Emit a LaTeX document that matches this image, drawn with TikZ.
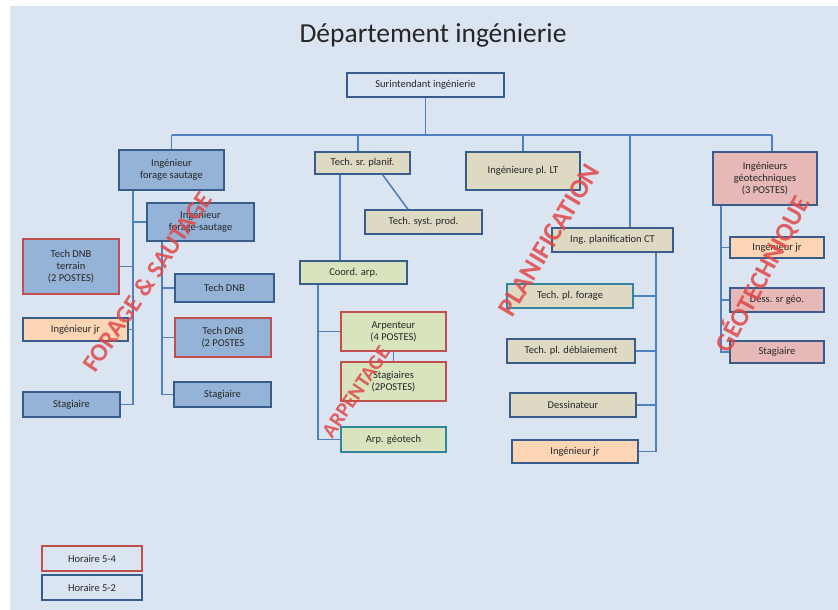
\documentclass[tikz,border=0pt]{standalone}
\usepackage{fontspec}
\setmainfont{Carlito}
\usetikzlibrary{calc}
\definecolor{bgc}{HTML}{DBE5F1}
\definecolor{bord}{HTML}{385D8A}
\definecolor{redb}{HTML}{C0504D}
\definecolor{bluef}{HTML}{95B3D7}
\definecolor{beige}{HTML}{DDD9C3}
\definecolor{greenf}{HTML}{D7E4BD}
\definecolor{pinkf}{HTML}{E6B9B8}
\definecolor{orangef}{HTML}{FCD5B5}
\definecolor{linec}{HTML}{4F81BD}
\definecolor{tealb}{HTML}{31859C}
\definecolor{wmark}{HTML}{E04848}
\definecolor{txt}{HTML}{262626}
\tikzset{
  box/.style={draw=bord, line width=1.2pt, align=center, inner sep=1pt,
    font=\fontsize{10.5}{12}\selectfont, text=txt},
  bluebox/.style={box, fill=bluef},
  beigebox/.style={box, fill=beige},
  greenbox/.style={box, fill=greenf},
  pinkbox/.style={box, fill=pinkf},
  orangebox/.style={box, fill=orangef},
  plainbox/.style={box, fill=bgc},
  redline/.style={draw=redb},
  conn/.style={draw=linec, line width=1.6pt},
  wm/.style={text=wmark, opacity=0.85, font=\bfseries\fontsize{#1}{#1}\selectfont, inner sep=0pt},
}
\begin{document}
\begin{tikzpicture}[x=1pt,y=-1pt]
\useasboundingbox (0,0) rectangle (838,610);
\fill[white] (0,0) rectangle (838,610);
\fill[bgc] (10,6) rectangle (838,610);

\node[font=\fontsize{27.5}{30}\selectfont, text=txt] (title) at (433,35) {Département ingénierie};

% top
\node[plainbox, minimum width=157pt, minimum height=24pt] (sur) at (425.5,85) {Surintendant ingénierie};

% forage & sautage
\node[bluebox, minimum width=105pt, minimum height=40pt] (ifs1) at (171.5,170) {Ingénieur\\forage sautage};
\node[bluebox, minimum width=107pt, minimum height=38pt] (ifs2) at (200.5,222) {Ingénieur\\forage-sautage};
\node[bluebox, redline, minimum width=96pt, minimum height=55pt] (tdnbt) at (71,266.5) {Tech DNB\\terrain\\(2 POSTES)};
\node[bluebox, minimum width=99pt, minimum height=28pt] (tdnb) at (224.5,288) {Tech DNB};
\node[orangebox, minimum width=105pt, minimum height=23pt] (ijr1) at (75.5,329.5) {Ingénieur jr};
\node[bluebox, redline, minimum width=96pt, minimum height=39pt] (tdnb2) at (223,337.5) {Tech DNB\\(2 POSTES};
\node[bluebox, minimum width=97pt, minimum height=25pt] (stg1) at (222.5,394.5) {Stagiaire};
\node[bluebox, minimum width=97pt, minimum height=25pt] (stg0) at (71.5,404.5) {Stagiaire};

% arpentage
\node[beigebox, minimum width=95pt, minimum height=22pt] (tsp) at (362.5,163) {Tech. sr. planif.};
\node[beigebox, minimum width=117pt, minimum height=24pt] (tsyp) at (423.5,222) {Tech. syst. prod.};
\node[greenbox, minimum width=107pt, minimum height=23pt] (coord) at (353.5,272.5) {Coord. arp.};
\node[greenbox, redline, minimum width=105pt, minimum height=39pt] (arp) at (393.5,331.5) {Arpenteur\\(4 POSTES)};
\node[greenbox, redline, minimum width=105pt, minimum height=39pt] (stgs) at (393.5,381.5) {Stagiaires\\(2POSTES)};
\node[greenbox, draw=tealb, line width=1.8pt, minimum width=105pt, minimum height=25pt] (arpg) at (393.5,439.5) {Arp. géotech};

% planification
\node[beigebox, minimum width=114pt, minimum height=38pt] (iplt) at (523,171) {Ingénieure pl. LT};
\node[beigebox, line width=1.8pt, minimum width=121pt, minimum height=24pt] (ipct) at (612.5,240) {Ing. planification CT};
\node[beigebox, draw=tealb, line width=1.8pt, minimum width=126pt, minimum height=24pt] (tplf) at (570,296) {Tech. pl. forage};
\node[beigebox, line width=1.6pt, minimum width=128pt, minimum height=24pt] (tpld) at (571,351) {Tech. pl. déblaiement};
\node[beigebox, minimum width=126pt, minimum height=24pt] (dess) at (573,405) {Dessinateur};
\node[orangebox, minimum width=126pt, minimum height=23pt] (ijr2) at (575,451.5) {Ingénieur jr};

% geotechnique
\node[pinkbox, minimum width=104pt, minimum height=53pt] (igeo) at (765,178.5) {Ingénieurs\\géotechniques\\(3 POSTES)};
\node[orangebox, minimum width=94pt, minimum height=21pt] (ijr3) at (777,247.5) {Ingénieur jr};
\node[pinkbox, minimum width=94pt, minimum height=24pt] (dsg) at (777,300) {Dess. sr géo.};
\node[pinkbox, minimum width=94pt, minimum height=22pt] (stg3) at (777,352) {Stagiaire};

% legend
\node[plainbox, redline, minimum width=100pt, minimum height=25pt] (h54) at (92,558.5) {Horaire 5-4};
\node[plainbox, minimum width=100pt, minimum height=25pt] (h52) at (92,587.5) {Horaire 5-2};

% connectors: bus
\coordinate (busL) at (172,135);
\coordinate (busR) at (772,135);
\draw[conn] (busL) -- (busR);
\draw[conn] (sur.south) -- (sur.south |- busL);
\draw[conn] (ifs1.north) -- (ifs1.north |- busL);
\draw[conn] ([xshift=-4.5pt]tsp.north) -- ([xshift=-4.5pt]tsp.north |- busL);
\draw[conn] (iplt.north) -- (iplt.north |- busL);
\draw[conn] ([xshift=17.5pt]ipct.north) -- ([xshift=17.5pt]ipct.north |- busL);
\draw[conn] ([xshift=7pt]igeo.north) -- ([xshift=7pt]igeo.north |- busL);

% forage trunks
\coordinate (t1) at ([xshift=-38.5pt]ifs1.south);
\draw[conn] (t1) -- (t1 |- stg0.east) -- (stg0.east);
\draw[conn] (ifs2.west) -- (ifs2.west -| t1);
\draw[conn] (tdnbt.east) -- (tdnbt.east -| t1);
\draw[conn] (ijr1.east) -- (ijr1.east -| t1);
\coordinate (t2) at ([xshift=-38.5pt]ifs2.south);
\draw[conn] (t2) -- (t2 |- stg1.west) -- (stg1.west);
\draw[conn] (tdnb.west) -- (tdnb.west -| t2);
\draw[conn] (tdnb2.west) -- (tdnb2.west -| t2);

% arpentage
\coordinate (t3) at ([xshift=-22.5pt]tsp.south);
\draw[conn] (t3) -- (t3 |- coord.north);
\draw[conn] ([xshift=20pt]tsp.south) -- ([xshift=-15.5pt]tsyp.north);
\coordinate (t4) at ([xshift=-35.5pt]coord.south);
\draw[conn] (t4) -- (t4 |- arpg.west) -- (arpg.west);
\draw[conn] (arp.west) -- (arp.west -| t4);
\draw[conn] (arp.south) -- (stgs.north);

% planification
\coordinate (t5) at ([xshift=43.5pt]ipct.south);
\draw[conn] (t5) -- (t5 |- ijr2.east) -- (ijr2.east);
\draw[conn] (tplf.east) -- (tplf.east -| t5);
\draw[conn] (tpld.east) -- (tpld.east -| t5);
\draw[conn] (dess.east) -- (dess.east -| t5);

% geotechnique
\coordinate (t6) at ([xshift=-44pt]igeo.south);
\draw[conn] (t6) -- (t6 |- stg3.west) -- (stg3.west);
\draw[conn] (ijr3.west) -- (ijr3.west -| t6);
\draw[conn] (dsg.west) -- (dsg.west -| t6);

% watermarks
\node[wm=25, rotate=56] (wfs) at (147,282) {FORAGE \& SAUTAGE};
\node[wm=21, rotate=56] (warp) at (356,392) {ARPENTAGE};
\node[wm=27, rotate=59] (wpl) at (549,240) {PLANIFICATION};
\node[wm=26, rotate=62] (wgeo) at (762,274) {GÉOTECHNIQUE};
\end{tikzpicture}
\end{document}
